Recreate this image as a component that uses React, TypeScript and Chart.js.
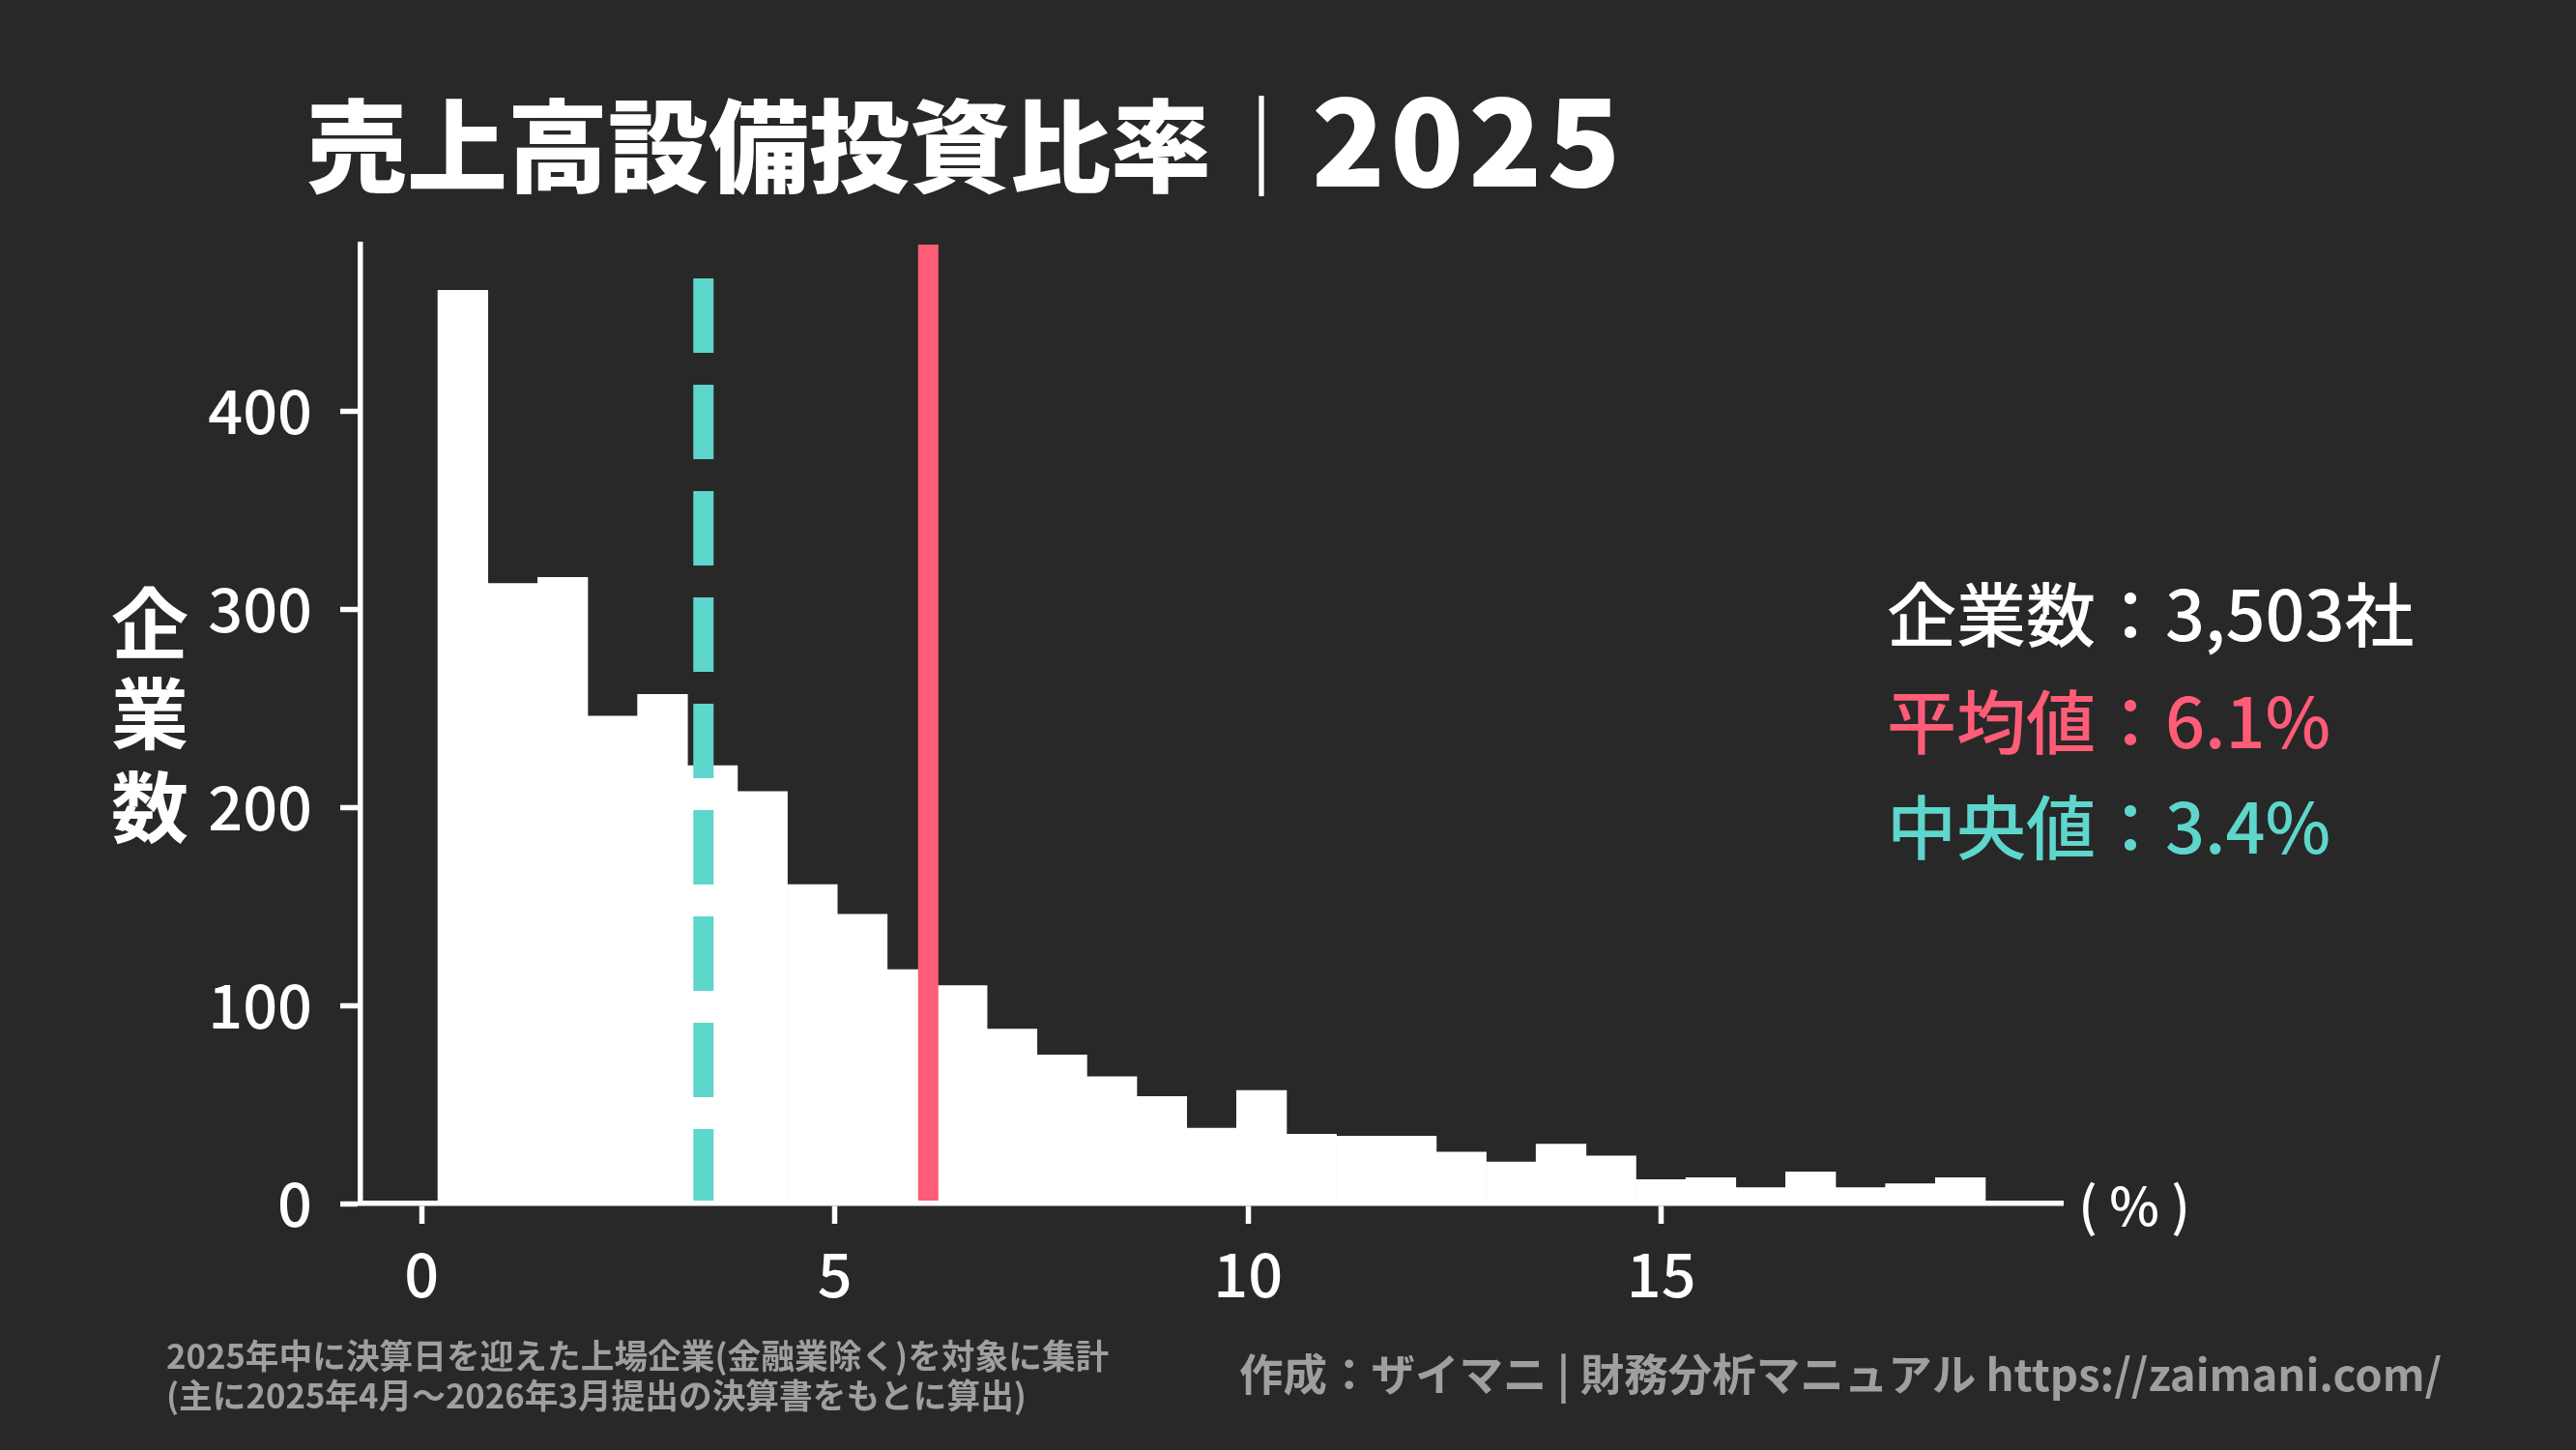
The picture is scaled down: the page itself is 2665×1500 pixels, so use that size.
import React, { useEffect, useRef } from "react";
import { Chart, registerables } from "chart.js";

Chart.register(...registerables);

// histogram of capex / sales ratio (%), 31 equal bins
const binStart = 0.197;
const binWidth = 0.604;
const binCounts = [
  461, 313, 316, 246, 257, 221, 208, 161, 146, 118, 110, 88, 75, 64, 54, 38,
  57, 35, 34, 34, 26, 21, 30, 24, 12, 13, 8, 16, 8, 10, 13,
];
const xTicks = [0, 5, 10, 15];
const yTicks = [0, 100, 200, 300, 400];
const companyCount = 3503;
const meanValue = 6.13;
const medianValue = 3.41;

const titleText = "売上高設備投資比率｜";
const titleYear = "2025";
const yLabelChars = ["企", "業", "数"];
const noteLines = [
  "2025年中に決算日を迎えた上場企業(金融業除く)を対象に集計",
  "(主に2025年4月〜2026年3月提出の決算書をもとに算出)",
];
const creditText = "作成：ザイマニ | 財務分析マニュアル https://zaimani.com/";

const BG = "#282828";
const PINK = "#FF5C78";
const TEAL = "#5ED6CB";
const GRAY = "#9f9f9f";
const FONT = '"Noto Sans CJK JP", "Noto Sans", sans-serif';

const overlayPlugin = {
  id: "overlay",
  afterDatasetsDraw(chart: any) {
    const { ctx, scales } = chart;
    const x = scales.x;
    const y = scales.y;
    const bottom = y.getPixelForValue(0);
    const top = y.getPixelForValue(y.max);
    ctx.save();
    ctx.lineWidth = 21;
    ctx.lineCap = "butt";

    // mean line
    const mx = x.getPixelForValue(meanValue);
    ctx.strokeStyle = PINK;
    ctx.beginPath();
    ctx.moveTo(mx, bottom);
    ctx.lineTo(mx, top);
    ctx.stroke();

    // median line (dashed, drawn bottom-up)
    const dx = x.getPixelForValue(medianValue);
    ctx.strokeStyle = TEAL;
    ctx.setLineDash([77, 33]);
    ctx.beginPath();
    ctx.moveTo(dx, bottom);
    ctx.lineTo(dx, top + 4);
    ctx.stroke();
    ctx.restore();
  },
  afterDraw(chart: any) {
    const { ctx } = chart;
    ctx.save();
    ctx.fillStyle = "#ffffff";

    // title
    ctx.textAlign = "left";
    ctx.textBaseline = "alphabetic";
    ctx.font = `900 104px ${FONT}`;
    ctx.fillText(titleText, 317, 191);
    const w = ctx.measureText(titleText).width;
    ctx.font = `900 125px ${FONT}`;
    ctx.letterSpacing = "5px";
    ctx.fillText(titleYear, 317 + w, 193);
    ctx.letterSpacing = "0px";

    // y label, stacked vertically
    ctx.textAlign = "center";
    ctx.textBaseline = "middle";
    ctx.font = `700 80px ${FONT}`;
    const labelY = [645, 738, 835];
    yLabelChars.forEach((c, i) => ctx.fillText(c, 155, labelY[i]));

    // unit
    ctx.font = `500 55px ${FONT}`;
    ctx.fillText("( % )", 2208, 1247);

    // stats
    ctx.textAlign = "left";
    ctx.font = `500 72px ${FONT}`;
    ctx.fillStyle = "#ffffff";
    ctx.fillText(`企業数：${companyCount.toLocaleString("en-US")}社`, 1952, 636);
    ctx.fillStyle = PINK;
    ctx.fillText(`平均値：${meanValue.toFixed(1)}%`, 1952, 747);
    ctx.fillStyle = TEAL;
    ctx.fillText(`中央値：${medianValue.toFixed(1)}%`, 1952, 856);

    // footer
    ctx.fillStyle = GRAY;
    ctx.font = `700 34.7px ${FONT}`;
    ctx.fillText(noteLines[0], 172, 1403);
    ctx.fillText(noteLines[1], 172, 1444);
    ctx.font = `700 45.5px ${FONT}`;
    ctx.fillText(creditText, 1282, 1422);
    ctx.restore();
  },
};

const App: React.FC = () => {
  const canvasRef = useRef<HTMLCanvasElement | null>(null);

  useEffect(() => {
    if (!canvasRef.current) return;

    const points = binCounts.map((c, i) => ({ x: binStart + binWidth * (i + 0.5), y: c }));
    const dataMax = binStart + binWidth * binCounts.length;
    const margin = (dataMax - binStart) * 0.05;
    const yMax = Math.max(...binCounts) * 1.05;

    const chart = new Chart(canvasRef.current, {
      type: "bar",
      data: {
        datasets: [
          {
            data: points,
            backgroundColor: "#ffffff",
            borderWidth: 0,
            barPercentage: 1,
            categoryPercentage: 1,
          },
        ],
      },
      options: {
        responsive: false,
        animation: false,
        devicePixelRatio: 1,
        layout: { padding: { left: 0, top: 253, right: 531, bottom: 0 } },
        plugins: { legend: { display: false }, tooltip: { enabled: false } },
        scales: {
          x: {
            type: "linear",
            offset: false,
            min: binStart - margin,
            max: dataMax + margin,
            afterBuildTicks: (s: any) => {
              s.ticks = xTicks.map((v) => ({ value: v }));
            },
            afterFit: (s: any) => {
              s.height = 255;
            },
            grid: {
              offset: false,
              drawOnChartArea: false,
              drawTicks: true,
              tickLength: 21,
              tickWidth: 5.5,
              tickColor: "#ffffff",
            },
            border: { display: true, color: "#ffffff", width: 5.5, z: 1 },
            ticks: { color: "#ffffff", padding: 14, font: { family: FONT, size: 63, weight: 500 } },
          },
          y: {
            min: 0,
            max: yMax,
            afterBuildTicks: (s: any) => {
              s.ticks = yTicks.map((v) => ({ value: v }));
            },
            afterFit: (s: any) => {
              s.width = 373;
            },
            grid: { drawOnChartArea: false, drawTicks: true, tickLength: 21, tickWidth: 5.5, tickColor: "#ffffff" },
            border: { display: true, color: "#ffffff", width: 5.5, z: 1 },
            ticks: { color: "#ffffff", padding: 29, font: { family: FONT, size: 63, weight: 500 } },
          },
        },
      },
      plugins: [overlayPlugin],
    });

    return () => {
      chart.destroy();
    };
  }, []);

  return (
    <div style={{ position: "absolute", left: 0, top: 0, width: 2665, height: 1500, background: BG }}>
      <canvas ref={canvasRef} width={2665} height={1500} />
    </div>
  );
};

export default App;
